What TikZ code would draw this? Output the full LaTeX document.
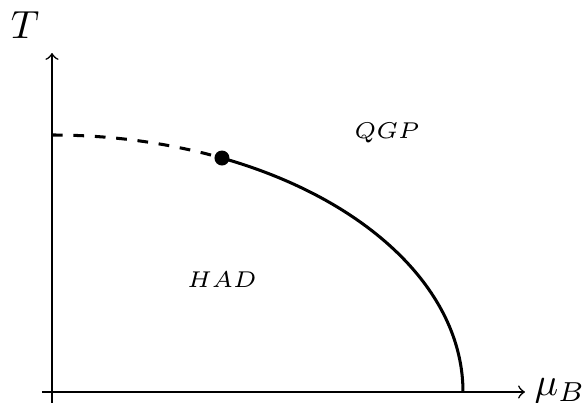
\documentclass[tikz,border=0pt]{standalone}
\usepackage{fix-cm}
\begin{document}
\begin{tikzpicture}[x=0.28pt,y=0.28pt,
  axis/.style={line width=0.45pt,->},
  phaseline/.style={line width=0.85pt},
  critdot/.style={circle,fill=black,inner sep=0pt,minimum size=4.2pt},
  biglabel/.style={font=\fontsize{11}{13}\selectfont},
  smalllabel/.style={font=\fontsize{6.4}{7}\selectfont}]
\useasboundingbox (0,0) rectangle (586,403);
% axes
\coordinate (ybot) at (52,0);
\coordinate (ytop) at (52,350);
\coordinate (xleft) at (42,11);
\coordinate (xright) at (525,11);
\draw[axis] (ybot) -- (ytop);
\draw[axis] (xleft) -- (xright);
\node[biglabel] (T) at (25,378) {$T$};
\node[biglabel] (muB) at (560,12) {$\mu_B$};
% phase boundary (quarter ellipse)
\coordinate (top) at (52,268);
\coordinate (cp) at ({52+411*cos(65.57)},{11+257*sin(65.57)});
\draw[phaseline,dashed] (top) arc[start angle=90,end angle=65.57,x radius=411,y radius=257];
\draw[phaseline] (cp) arc[start angle=65.57,end angle=0,x radius=411,y radius=257];
\node[critdot] (dot) at (cp) {};
% region labels
\node[smalllabel] (qgp) at (387,270) {$QGP$};
\node[smalllabel] (had) at (222,123) {$HAD$};
\end{tikzpicture}
\end{document}
